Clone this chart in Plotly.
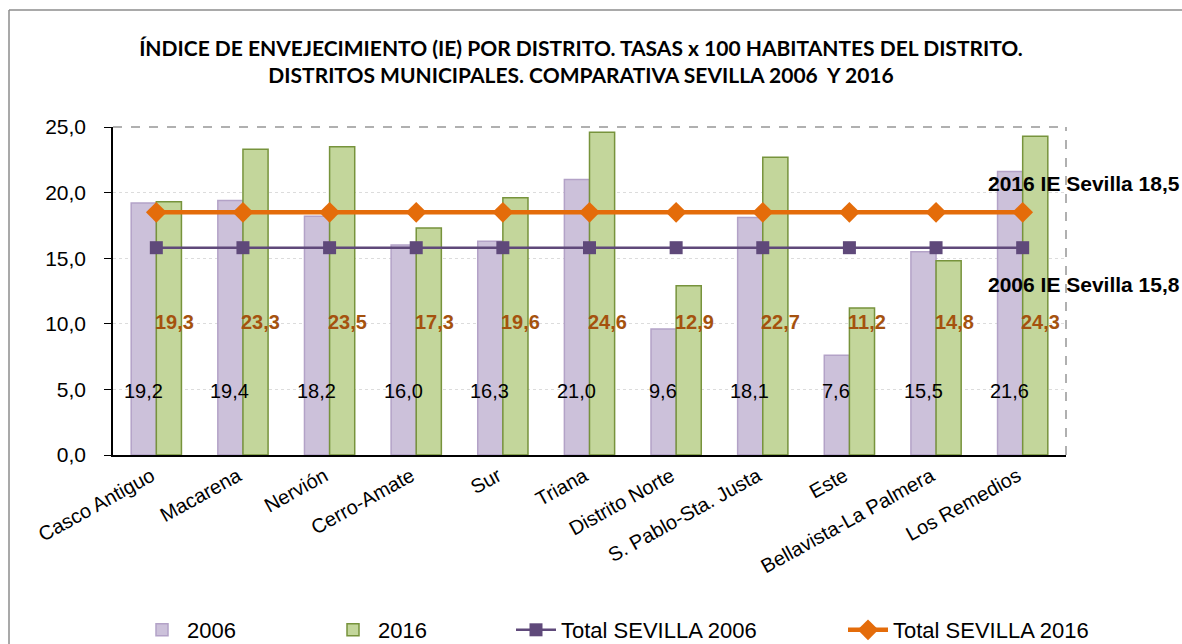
import plotly.graph_objects as go

districts = ["Casco Antiguo", "Macarena", "Nervión", "Cerro-Amate", "Sur", "Triana",
             "Distrito Norte", "S. Pablo-Sta. Justa", "Este", "Bellavista-La Palmera", "Los Remedios"]
ie_2006 = [19.2, 19.4, 18.2, 16.0, 16.3, 21.0, 9.6, 18.1, 7.6, 15.5, 21.6]
ie_2016 = [19.3, 23.3, 23.5, 17.3, 19.6, 24.6, 12.9, 22.7, 11.2, 14.8, 24.3]
total_2006 = 15.8
total_2016 = 18.5
y_ticks = [0, 5, 10, 15, 20, 25]

W, H = 1182, 644
L, R, T, B = 113, 116, 127, 189
pw = W - L - R
ph = H - T - B

FONT = "Liberation Sans, Arial"

fig = go.Figure()
fig.add_trace(go.Bar(name="2006", x=districts, y=ie_2006, legend="legend",
                     marker=dict(color="#ccc1da", line=dict(color="#b3a2c7", width=1.5))))
fig.add_trace(go.Bar(name="2016", x=districts, y=ie_2016, legend="legend2",
                     marker=dict(color="#c3d69b", line=dict(color="#77933c", width=1.5))))
fig.add_trace(go.Scatter(name="Total SEVILLA 2006", x=districts, y=[total_2006] * len(districts),
                         mode="lines+markers", line=dict(color="#5f497a", width=2.5), legend="legend3",
                         marker=dict(symbol="square", size=13, color="#5f497a")))
fig.add_trace(go.Scatter(name="Total SEVILLA 2016", x=districts, y=[total_2016] * len(districts),
                         mode="lines+markers", line=dict(color="#e46c0a", width=4.5), legend="legend4",
                         marker=dict(symbol="diamond", size=16, color="#e46c0a")))

fmt = lambda v: f"{v:.1f}".replace(".", ",")
for d, v in zip(districts, ie_2006):
    fig.add_annotation(x=d, y=4.9, text=fmt(v), showarrow=False, xshift=-13,
                       font=dict(family=FONT, size=20, color="#000000"))
for d, v in zip(districts, ie_2016):
    fig.add_annotation(x=d, y=10.1, text=f"<b>{fmt(v)}</b>", showarrow=False, xshift=18,
                       font=dict(family=FONT, size=20, color="#a5520e"))

fig.add_annotation(xref="paper", yref="y", x=1.0, y=20.7, xanchor="left", xshift=-80,
                   text=f"<b>2016 IE Sevilla {fmt(total_2016)}</b>", showarrow=False,
                   font=dict(family=FONT, size=21, color="#000000"))
fig.add_annotation(xref="paper", yref="y", x=1.0, y=13.0, xanchor="left", xshift=-80,
                   text=f"<b>2006 IE Sevilla {fmt(total_2006)}</b>", showarrow=False,
                   font=dict(family=FONT, size=21, color="#000000"))

# outer chart frame (left and top edges visible)
fx0 = (9 - L) / pw
fy1 = 1 + (T - 10) / ph
fig.add_shape(type="line", xref="paper", yref="paper", x0=fx0, x1=fx0, y0=-(H - T) / ph, y1=fy1,
              line=dict(color="#8c8c8c", width=1.5))
fig.add_shape(type="line", xref="paper", yref="paper", x0=fx0, x1=(W - L) / pw, y0=fy1, y1=fy1,
              line=dict(color="#8c8c8c", width=1.5))
# dashed plot area border top/right
fig.add_shape(type="line", xref="paper", yref="paper", x0=0, x1=1, y0=1, y1=1,
              line=dict(color="#b0b0b0", width=2, dash="dash"))
fig.add_shape(type="line", xref="paper", yref="paper", x0=1, x1=1, y0=0, y1=1,
              line=dict(color="#b0b0b0", width=2, dash="dash"))

def leg(xpix):
    return dict(orientation="h", xref="container", yref="container",
                x=xpix / W, xanchor="left", y=(H - 630) / H, yanchor="middle",
                font=dict(family=FONT, size=22, color="#000000"), bgcolor="rgba(0,0,0,0)",
                itemwidth=40)

fig.update_layout(
    width=W, height=H,
    margin=dict(l=L, r=R, t=T, b=B, autoexpand=False),
    paper_bgcolor="white", plot_bgcolor="white",
    separators=",.",
    barmode="group", bargap=0.42, bargroupgap=0.0,
    title=dict(text="ÍNDICE DE ENVEJECIMIENTO (IE) POR DISTRITO. TASAS x 100 HABITANTES DEL DISTRITO.<br>"
                    "DISTRITOS MUNICIPALES. COMPARATIVA SEVILLA 2006  Y 2016",
               x=581 / W, xanchor="center", y=1 - 56 / H, yanchor="middle",
               font=dict(family="Lato, Liberation Sans", size=21, color="#000000", weight="bold")),
    font=dict(family=FONT, size=20, color="#000000"),
    showlegend=True,
    legend=leg(137), legend2=leg(328), legend3=leg(511), legend4=leg(843),
    xaxis=dict(range=[-0.5, len(districts) - 0.5], showline=True, linecolor="#000000", linewidth=1.5,
               tickangle=-29, ticks="", showgrid=False, ticklabelshift=-5,
               tickfont=dict(family=FONT, size=20)),
    yaxis=dict(range=[0, 25], tickvals=y_ticks, tickformat=".1f", showline=True,
               linecolor="#000000", linewidth=1.5, ticks="outside", ticklen=7, tickcolor="#000000",
               ticklabelstandoff=14,
               showgrid=True, gridcolor="#dcdcdc", griddash="dot", gridwidth=1, zeroline=False,
               tickfont=dict(family=FONT, size=21)),
)

fig.write_html("out.html", config={"displayModeBar": False},
               post_script="document.body.style.margin='0';document.body.style.overflow='hidden';")
